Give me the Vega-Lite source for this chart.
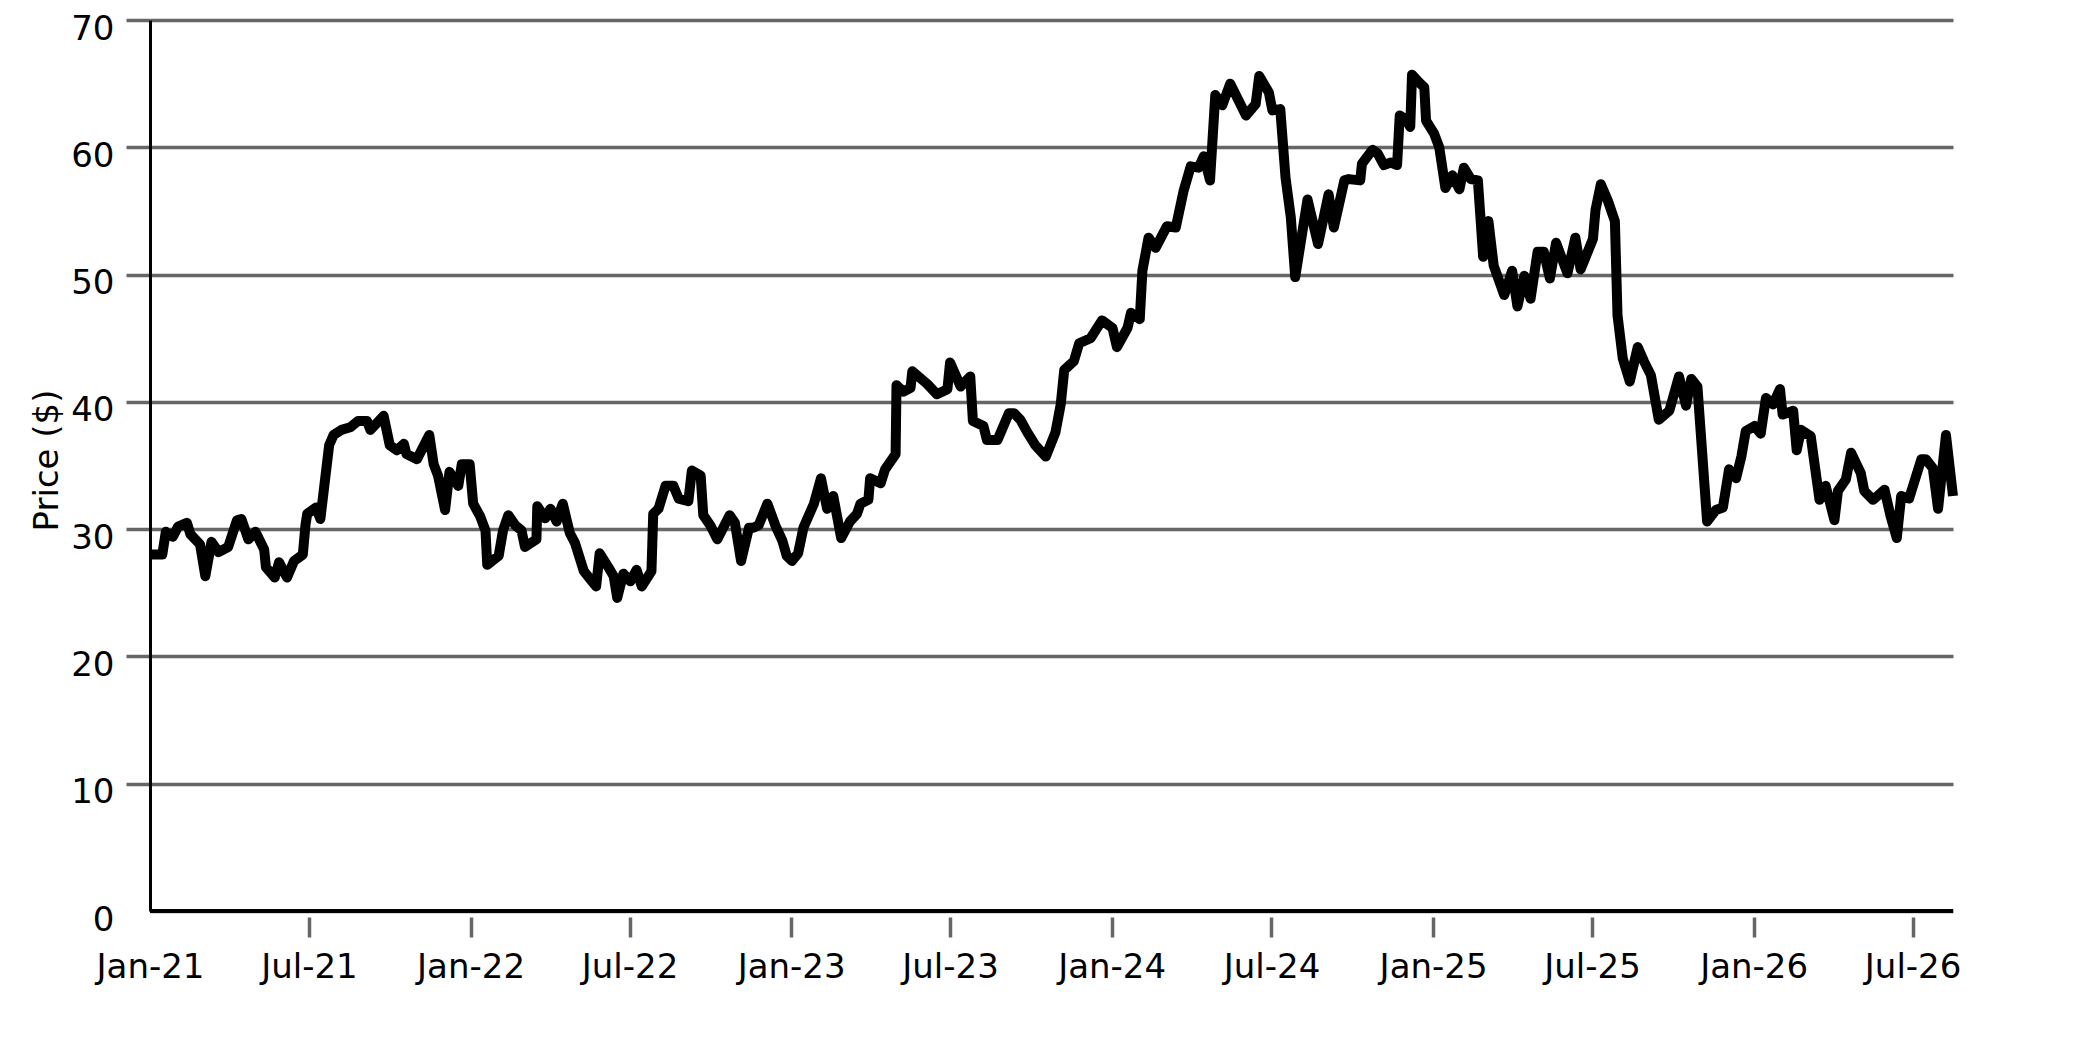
{
  "$schema": "https://vega.github.io/schema/vega-lite/v6.json",
  "width": 1803,
  "height": 891,
  "autosize": {"type": "none"},
  "padding": {"left": 150, "top": 20, "right": 130, "bottom": 111},
  "background": "white",
  "config": {"view": {"stroke": null}, "font": "DejaVu Sans"},
  "data": {"values": [
    {"date":"2021-01-01","price":28.0},{"date":"2021-01-15","price":28.0},{"date":"2021-01-19","price":29.8},{"date":"2021-01-27","price":29.4},
    {"date":"2021-02-02","price":30.2},{"date":"2021-02-12","price":30.5},{"date":"2021-02-16","price":29.6},{"date":"2021-02-27","price":28.8},
    {"date":"2021-03-05","price":26.3},{"date":"2021-03-12","price":29.0},{"date":"2021-03-20","price":28.2},{"date":"2021-03-31","price":28.6},
    {"date":"2021-04-10","price":30.7},{"date":"2021-04-15","price":30.8},{"date":"2021-04-23","price":29.2},{"date":"2021-05-01","price":29.8},
    {"date":"2021-05-11","price":28.4},{"date":"2021-05-13","price":27.0},{"date":"2021-05-23","price":26.2},{"date":"2021-05-28","price":27.4},
    {"date":"2021-06-06","price":26.2},{"date":"2021-06-14","price":27.5},{"date":"2021-06-24","price":28.0},{"date":"2021-06-27","price":30.3},
    {"date":"2021-06-29","price":31.2},{"date":"2021-07-09","price":31.7},{"date":"2021-07-14","price":30.8},{"date":"2021-07-24","price":36.6},
    {"date":"2021-07-29","price":37.4},{"date":"2021-08-07","price":37.8},{"date":"2021-08-17","price":38.0},{"date":"2021-08-26","price":38.5},
    {"date":"2021-09-05","price":38.5},{"date":"2021-09-09","price":37.8},{"date":"2021-09-24","price":38.9},{"date":"2021-10-01","price":36.6},
    {"date":"2021-10-09","price":36.2},{"date":"2021-10-17","price":36.7},{"date":"2021-10-20","price":35.9},{"date":"2021-11-01","price":35.5},
    {"date":"2021-11-15","price":37.4},{"date":"2021-11-20","price":35.1},{"date":"2021-11-25","price":34.2},{"date":"2021-12-03","price":31.5},
    {"date":"2021-12-08","price":34.5},{"date":"2021-12-18","price":33.4},{"date":"2021-12-22","price":35.1},{"date":"2021-12-31","price":35.1},
    {"date":"2022-01-04","price":32.0},{"date":"2022-01-12","price":31.0},{"date":"2022-01-18","price":29.9},{"date":"2022-01-20","price":27.2},
    {"date":"2022-02-02","price":27.9},{"date":"2022-02-07","price":29.9},{"date":"2022-02-13","price":31.1},{"date":"2022-02-21","price":30.3},
    {"date":"2022-02-28","price":29.9},{"date":"2022-03-04","price":28.6},{"date":"2022-03-17","price":29.2},{"date":"2022-03-18","price":31.8},
    {"date":"2022-03-27","price":30.85},{"date":"2022-04-02","price":31.6},{"date":"2022-04-09","price":30.6},{"date":"2022-04-16","price":32.0},
    {"date":"2022-04-24","price":29.7},{"date":"2022-04-30","price":28.9},{"date":"2022-05-10","price":26.7},{"date":"2022-05-17","price":26.1},
    {"date":"2022-05-24","price":25.5},{"date":"2022-05-28","price":28.1},{"date":"2022-06-07","price":27.0},{"date":"2022-06-13","price":26.3},
    {"date":"2022-06-17","price":24.6},{"date":"2022-06-24","price":26.5},{"date":"2022-07-02","price":25.9},{"date":"2022-07-09","price":26.8},
    {"date":"2022-07-15","price":25.5},{"date":"2022-07-26","price":26.7},{"date":"2022-07-28","price":31.2},{"date":"2022-08-03","price":31.6},
    {"date":"2022-08-11","price":33.4},{"date":"2022-08-20","price":33.4},{"date":"2022-08-26","price":32.4},{"date":"2022-09-06","price":32.2},
    {"date":"2022-09-10","price":34.6},{"date":"2022-09-20","price":34.2},{"date":"2022-09-23","price":31.1},{"date":"2022-10-01","price":30.3},
    {"date":"2022-10-09","price":29.2},{"date":"2022-10-23","price":31.1},{"date":"2022-10-29","price":30.5},{"date":"2022-11-05","price":27.5},
    {"date":"2022-11-14","price":30.1},{"date":"2022-11-19","price":30.1},{"date":"2022-11-25","price":30.3},{"date":"2022-12-05","price":32.0},
    {"date":"2022-12-14","price":30.3},{"date":"2022-12-22","price":29.1},{"date":"2022-12-27","price":27.9},{"date":"2023-01-02","price":27.5},
    {"date":"2023-01-09","price":28.1},{"date":"2023-01-15","price":30.1},{"date":"2023-01-27","price":32.0},{"date":"2023-02-04","price":34.0},
    {"date":"2023-02-11","price":31.6},{"date":"2023-02-18","price":32.6},{"date":"2023-02-27","price":29.3},{"date":"2023-03-09","price":30.6},
    {"date":"2023-03-17","price":31.2},{"date":"2023-03-21","price":32.0},{"date":"2023-03-30","price":32.3},{"date":"2023-04-01","price":34.0},
    {"date":"2023-04-13","price":33.6},{"date":"2023-04-18","price":34.7},{"date":"2023-04-30","price":35.9},{"date":"2023-05-01","price":41.3},
    {"date":"2023-05-09","price":40.8},{"date":"2023-05-17","price":41.1},{"date":"2023-05-19","price":42.4},{"date":"2023-06-05","price":41.4},
    {"date":"2023-06-16","price":40.6},{"date":"2023-06-28","price":41.0},{"date":"2023-07-01","price":43.1},{"date":"2023-07-13","price":41.2},
    {"date":"2023-07-24","price":42.0},{"date":"2023-07-27","price":38.5},{"date":"2023-08-08","price":38.1},{"date":"2023-08-12","price":37.0},
    {"date":"2023-08-24","price":37.0},{"date":"2023-09-06","price":39.1},{"date":"2023-09-12","price":39.1},{"date":"2023-09-19","price":38.6},
    {"date":"2023-09-27","price":37.6},{"date":"2023-10-06","price":36.6},{"date":"2023-10-18","price":35.7},{"date":"2023-10-29","price":37.6},
    {"date":"2023-11-04","price":39.8},{"date":"2023-11-08","price":42.5},{"date":"2023-11-19","price":43.2},{"date":"2023-11-25","price":44.6},
    {"date":"2023-12-08","price":45.0},{"date":"2023-12-21","price":46.4},{"date":"2024-01-02","price":45.8},{"date":"2024-01-07","price":44.3},
    {"date":"2024-01-19","price":45.8},{"date":"2024-01-23","price":47.0},{"date":"2024-02-02","price":46.5},{"date":"2024-02-05","price":50.3},
    {"date":"2024-02-12","price":52.9},{"date":"2024-02-20","price":52.1},{"date":"2024-03-04","price":53.8},{"date":"2024-03-14","price":53.7},
    {"date":"2024-03-23","price":56.6},{"date":"2024-03-31","price":58.5},{"date":"2024-04-09","price":58.4},{"date":"2024-04-15","price":59.3},
    {"date":"2024-04-22","price":57.4},{"date":"2024-04-28","price":64.1},{"date":"2024-05-06","price":63.3},{"date":"2024-05-15","price":65.0},
    {"date":"2024-06-02","price":62.5},{"date":"2024-06-13","price":63.4},{"date":"2024-06-17","price":65.6},{"date":"2024-06-28","price":64.3},
    {"date":"2024-07-02","price":62.9},{"date":"2024-07-11","price":63.0},{"date":"2024-07-17","price":57.6},{"date":"2024-07-23","price":54.5},
    {"date":"2024-07-28","price":49.8},{"date":"2024-08-11","price":55.9},{"date":"2024-08-23","price":52.4},{"date":"2024-09-04","price":56.3},
    {"date":"2024-09-10","price":53.7},{"date":"2024-09-22","price":57.4},{"date":"2024-09-27","price":57.5},{"date":"2024-10-10","price":57.4},
    {"date":"2024-10-12","price":58.7},{"date":"2024-10-24","price":59.8},{"date":"2024-10-30","price":59.5},{"date":"2024-11-06","price":58.6},
    {"date":"2024-11-14","price":58.8},{"date":"2024-11-21","price":58.6},{"date":"2024-11-24","price":62.5},{"date":"2024-12-01","price":62.2},
    {"date":"2024-12-06","price":61.6},{"date":"2024-12-08","price":65.7},{"date":"2024-12-16","price":65.1},{"date":"2024-12-22","price":64.7},
    {"date":"2024-12-24","price":62.1},{"date":"2025-01-02","price":61.1},{"date":"2025-01-08","price":60.0},{"date":"2025-01-15","price":56.8},
    {"date":"2025-01-23","price":57.8},{"date":"2025-01-31","price":56.7},{"date":"2025-02-05","price":58.4},{"date":"2025-02-13","price":57.5},
    {"date":"2025-02-21","price":57.4},{"date":"2025-02-27","price":51.4},{"date":"2025-03-05","price":54.2},{"date":"2025-03-11","price":50.7},
    {"date":"2025-03-23","price":48.4},{"date":"2025-04-01","price":50.3},{"date":"2025-04-07","price":47.5},{"date":"2025-04-15","price":49.9},
    {"date":"2025-04-22","price":48.1},{"date":"2025-04-30","price":51.8},{"date":"2025-05-07","price":51.8},{"date":"2025-05-14","price":49.7},
    {"date":"2025-05-21","price":52.5},{"date":"2025-06-03","price":50.1},{"date":"2025-06-12","price":52.9},{"date":"2025-06-18","price":50.4},
    {"date":"2025-07-02","price":52.8},{"date":"2025-07-05","price":55.1},{"date":"2025-07-11","price":57.1},{"date":"2025-07-19","price":55.8},
    {"date":"2025-07-27","price":54.2},{"date":"2025-07-30","price":46.8},{"date":"2025-08-05","price":43.4},{"date":"2025-08-13","price":41.6},
    {"date":"2025-08-22","price":44.3},{"date":"2025-08-29","price":43.2},{"date":"2025-09-06","price":42.1},{"date":"2025-09-15","price":38.6},
    {"date":"2025-09-27","price":39.3},{"date":"2025-10-08","price":42.0},{"date":"2025-10-16","price":39.7},{"date":"2025-10-22","price":41.8},
    {"date":"2025-10-29","price":41.2},{"date":"2025-11-09","price":30.6},{"date":"2025-11-19","price":31.5},{"date":"2025-11-27","price":31.7},
    {"date":"2025-12-04","price":34.7},{"date":"2025-12-12","price":34.0},{"date":"2025-12-18","price":35.7},{"date":"2025-12-23","price":37.7},
    {"date":"2026-01-02","price":38.1},{"date":"2026-01-09","price":37.5},{"date":"2026-01-15","price":40.3},{"date":"2026-01-23","price":39.8},
    {"date":"2026-01-31","price":41.0},{"date":"2026-02-03","price":39.0},{"date":"2026-02-15","price":39.3},{"date":"2026-02-19","price":36.2},
    {"date":"2026-02-24","price":37.8},{"date":"2026-03-07","price":37.3},{"date":"2026-03-17","price":32.3},{"date":"2026-03-24","price":33.4},
    {"date":"2026-04-03","price":30.7},{"date":"2026-04-07","price":33.0},{"date":"2026-04-16","price":33.9},{"date":"2026-04-22","price":36.0},
    {"date":"2026-05-03","price":34.4},{"date":"2026-05-07","price":33.0},{"date":"2026-05-17","price":32.3},{"date":"2026-05-30","price":33.1},
    {"date":"2026-06-06","price":31.0},{"date":"2026-06-13","price":29.3},{"date":"2026-06-18","price":32.6},{"date":"2026-06-27","price":32.4},
    {"date":"2026-07-11","price":35.5},{"date":"2026-07-16","price":35.5},{"date":"2026-07-24","price":34.8},{"date":"2026-07-30","price":31.6},
    {"date":"2026-08-08","price":37.4},{"date":"2026-08-16","price":32.6}
  ]},
  "layer": [
    {
      "mark": {"type": "line", "color": "black", "strokeWidth": 10, "strokeJoin": "round", "strokeCap": "butt"},
      "encoding": {
        "x": {
          "field": "date", "type": "temporal",
          "scale": {"type": "utc", "nice": false},
          "axis": {
            "title": null,
            "values": [
              {"year": 2021, "month": 1, "date": 1, "utc": true},
              {"year": 2021, "month": 7, "date": 1, "utc": true},
              {"year": 2022, "month": 1, "date": 1, "utc": true},
              {"year": 2022, "month": 7, "date": 1, "utc": true},
              {"year": 2023, "month": 1, "date": 1, "utc": true},
              {"year": 2023, "month": 7, "date": 1, "utc": true},
              {"year": 2024, "month": 1, "date": 1, "utc": true},
              {"year": 2024, "month": 7, "date": 1, "utc": true},
              {"year": 2025, "month": 1, "date": 1, "utc": true},
              {"year": 2025, "month": 7, "date": 1, "utc": true},
              {"year": 2026, "month": 1, "date": 1, "utc": true},
              {"year": 2026, "month": 7, "date": 1, "utc": true}
            ],
            "format": "%b-%y",
            "domain": false,
            "grid": false,
            "offset": 6,
            "ticks": true,
            "tickColor": "#666666",
            "tickWidth": 3.5,
            "tickSize": 20,
            "tickOpacity": {"condition": {"test": "datum.value < 1612137600000", "value": 0}, "value": 1},
            "labelFont": "DejaVu Sans",
            "labelFontSize": 34,
            "labelColor": "black",
            "labelPadding": 13,
            "labelFlush": false,
            "labelOverlap": false
          }
        },
        "y": {
          "field": "price", "type": "quantitative",
          "scale": {"domain": [0, 70], "nice": false, "zero": true},
          "axis": {
            "title": "Price ($)",
            "values": [0, 10, 20, 30, 40, 50, 60, 70],
            "grid": true,
            "gridColor": "#666666",
            "gridWidth": 3.5,
            "domain": true,
            "domainColor": "black",
            "domainWidth": 3,
            "tickColor": "#666666",
            "tickWidth": 3.5,
            "tickSize": 24,
            "tickOpacity": {"condition": {"test": "datum.value == 0", "value": 0}, "value": 1},
            "labelFont": "DejaVu Sans",
            "labelFontSize": 34,
            "labelColor": "black",
            "labelPadding": 12,
            "labelOffset": 9,
            "labelFlush": false,
            "labelOverlap": false,
            "titleFont": "DejaVu Sans",
            "titleFontSize": 34,
            "titleFontWeight": "normal",
            "titleColor": "black",
            "titleAngle": 270,
            "titleAlign": "center",
            "titleBaseline": "middle",
            "titleX": -103,
            "titleY": 440
          }
        }
      }
    },
    {
      "data": {"values": [{}]},
      "mark": {"type": "rule", "color": "black", "strokeWidth": 4},
      "encoding": {"y": {"datum": 0, "type": "quantitative"}}
    }
  ]
}
